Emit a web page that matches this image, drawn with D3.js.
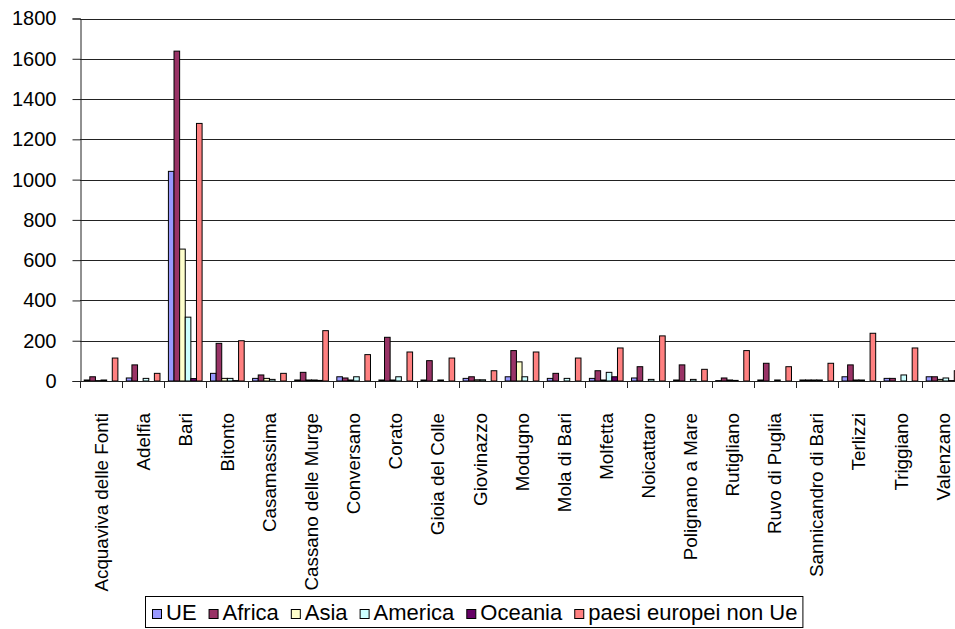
<!DOCTYPE html>
<html>
<head>
<meta charset="utf-8">
<script src="https://cdn.jsdelivr.net/npm/d3@7"></script>
<style>
  body { margin: 0; background: #fff; }
  svg { display: block; font-family: Arial, "Liberation Sans", sans-serif; }
</style>
</head>
<body>
<div id="chart"></div>
<script>
// Comuni (categories)
const comuni = ["Acquaviva delle Fonti", "Adelfia", "Bari", "Bitonto", "Casamassima",
  "Cassano delle Murge", "Conversano", "Corato", "Gioia del Colle", "Giovinazzo",
  "Modugno", "Mola di Bari", "Molfetta", "Noicattaro", "Polignano a Mare",
  "Rutigliano", "Ruvo di Puglia", "Sannicandro di Bari", "Terlizzi", "Triggiano", "Valenzano"];

// Series names and colours
const series = ["UE", "Africa", "Asia", "America", "Oceania", "paesi europei non Ue"];
const colors = ["#9999FF", "#993366", "#FFFFCC", "#CCFFFF", "#660066", "#FF8080"];

// Values per series, one per comune
const ue       = [5, 15, 1041, 38, 13, 5, 21, 5, 5, 13, 21, 13, 13, 15, 5, 2, 5, 5, 21, 13, 21];
const africa   = [21, 80, 1638, 187, 30, 43, 15, 217, 101, 21, 151, 38, 51, 71, 80, 15, 88, 5, 80, 13, 21];
const asia     = [2, 0, 655, 13, 13, 5, 5, 5, 0, 6, 95, 0, 5, 0, 0, 5, 0, 5, 5, 0, 8];
const america  = [5, 13, 317, 13, 8, 5, 21, 21, 5, 6, 21, 13, 43, 8, 8, 3, 5, 5, 5, 30, 15];
const oceania  = [0, 0, 12, 2, 0, 3, 0, 0, 0, 0, 0, 0, 21, 0, 0, 0, 0, 0, 0, 0, 2];
const nonUe    = [114, 38, 1279, 200, 38, 250, 131, 144, 114, 51, 144, 114, 164, 224, 58, 151, 71, 88, 237, 164, 51];
const values = [ue, africa, asia, america, oceania, nonUe];

const yTicks = [0, 200, 400, 600, 800, 1000, 1200, 1400, 1600, 1800];

const width = 955, height = 629;
const plotLeft = 80, plotTop = 18.5, plotBottom = 381;
const step = 42.1;

const svg = d3.select("#chart").append("svg")
  .attr("width", width)
  .attr("height", height);

const x0 = d3.scaleBand()
  .domain(comuni)
  .range([plotLeft, plotLeft + step * comuni.length])
  .padding(0);

const x1 = d3.scaleBand()
  .domain(series)
  .range([0, x0.bandwidth()])
  .paddingInner(0)
  .paddingOuter(0.75);

const y = d3.scaleLinear()
  .domain([0, 1800])
  .range([plotBottom, plotTop]);

// gridlines
svg.append("g")
  .selectAll("line")
  .data(yTicks.slice(1))
  .join("line")
  .attr("x1", plotLeft).attr("x2", width)
  .attr("y1", d => Math.round(y(d)) + 0.5)
  .attr("y2", d => Math.round(y(d)) + 0.5)
  .attr("stroke", "#222")
  .attr("stroke-width", 1);

// y axis
const yAxis = svg.append("g")
  .attr("transform", `translate(${plotLeft + 0.5},0)`)
  .call(d3.axisLeft(y).tickValues(yTicks).tickFormat(d3.format("d")).tickSize(8).tickPadding(16));
yAxis.select(".domain").attr("stroke", "#222");
yAxis.selectAll(".tick line").attr("stroke", "#222");
yAxis.selectAll("text")
  .attr("font-size", "20px")
  .attr("font-family", "Arial, 'Liberation Sans', sans-serif")
  .attr("fill", "#000");

// bars
const groups = svg.append("g")
  .selectAll("g")
  .data(comuni)
  .join("g")
  .attr("transform", d => `translate(${x0(d)},0)`);

groups.selectAll("rect")
  .data((c, i) => series.map((s, j) => ({ s, j, v: values[j][i] })).filter(d => d.v > 0))
  .join("rect")
  .attr("x", d => x1(d.s))
  .attr("y", d => y(d.v))
  .attr("width", x1.bandwidth())
  .attr("height", d => plotBottom - y(d.v))
  .attr("fill", d => colors[d.j])
  .attr("stroke", "#000")
  .attr("stroke-width", 1);

// x axis
svg.append("line")
  .attr("x1", plotLeft).attr("x2", width)
  .attr("y1", plotBottom + 0.5).attr("y2", plotBottom + 0.5)
  .attr("stroke", "#222");

svg.append("g")
  .selectAll("line")
  .data(d3.range(comuni.length + 1))
  .join("line")
  .attr("x1", i => Math.round(plotLeft + i * x0.step()) + 0.5)
  .attr("x2", i => Math.round(plotLeft + i * x0.step()) + 0.5)
  .attr("y1", plotBottom)
  .attr("y2", plotBottom + 7)
  .attr("stroke", "#222");

// category labels, rotated
svg.append("g")
  .selectAll("text")
  .data(comuni)
  .join("text")
  .attr("transform", d => `translate(${x0(d) + x0.bandwidth() / 2},413) rotate(-90)`)
  .attr("text-anchor", "end")
  .attr("dy", "0.35em")
  .attr("font-size", "18.8px")
  .attr("fill", "#000")
  .text(d => d);

// legend
const legend = svg.append("g");
const legendBox = legend.append("rect")
  .attr("y", 596.5)
  .attr("height", 31)
  .attr("fill", "#fff")
  .attr("stroke", "#000");

let lx = 152;
series.forEach((s, i) => {
  legend.append("rect")
    .attr("x", lx + 0.5).attr("y", 609.5)
    .attr("width", 9).attr("height", 9)
    .attr("fill", colors[i])
    .attr("stroke", "#000");
  const t = legend.append("text")
    .attr("x", lx + 14)
    .attr("y", 620)
    .attr("font-size", "22px")
    .attr("fill", "#000")
    .text(s);
  lx += 14 + t.node().getComputedTextLength() + 12;
});
legendBox.attr("x", 145.5).attr("width", lx - 12 + 5 - 145);
</script>
</body>
</html>
